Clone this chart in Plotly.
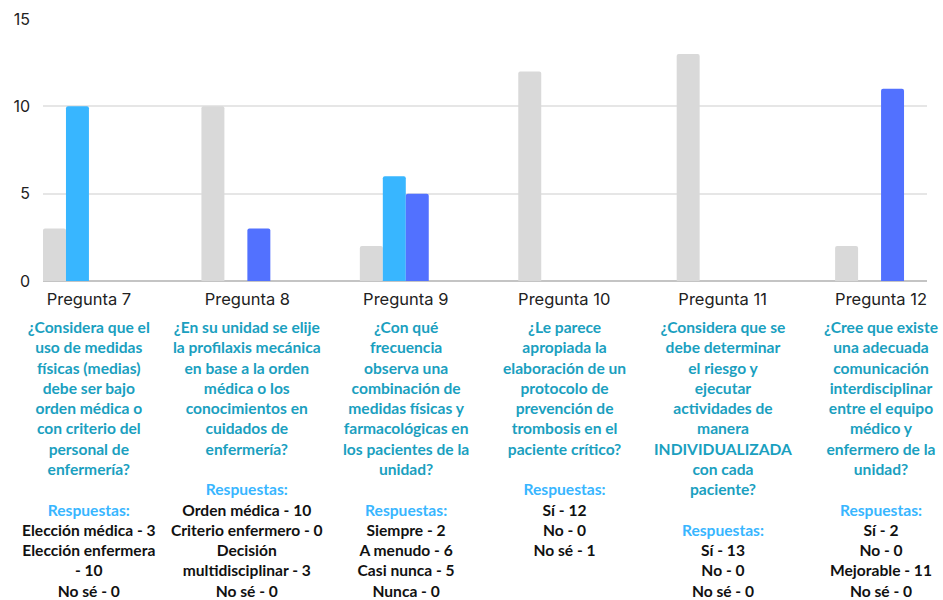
import plotly.graph_objects as go

categories = ["Pregunta 7", "Pregunta 8", "Pregunta 9", "Pregunta 10", "Pregunta 11", "Pregunta 12"]
serie_1 = [3, 10, 2, 12, 13, 2]
serie_2 = [10, 0, 6, 0, 0, 0]
serie_3 = [0, 3, 5, 0, 0, 11]
serie_4 = [0, 0, 0, 0, 0, 0]
y_ticks = [0, 5, 10, 15]

questions = [
    ["¿Considera que el", "uso de medidas", "físicas (medias)", "debe ser bajo", "orden médica o",
     "con criterio del", "personal de", "enfermería?"],
    ["¿En su unidad se elije", "la profilaxis mecánica", "en base a la orden", "médica o los",
     "conocimientos en", "cuidados de", "enfermería?"],
    ["¿Con qué", "frecuencia", "observa una", "combinación de", "medidas físicas y",
     "farmacológicas en", "los pacientes de la", "unidad?"],
    ["¿Le parece", "apropiada la", "elaboración de un", "protocolo de", "prevención de",
     "trombosis en el", "paciente crítico?"],
    ["¿Considera que se", "debe determinar", "el riesgo y", "ejecutar", "actividades de", "manera",
     "INDIVIDUALIZADA", "con cada", "paciente?"],
    ["¿Cree que existe", "una adecuada", "comunicación", "interdisciplinar", "entre el equipo",
     "médico y", "enfermero de la", "unidad?"],
]
answers = [
    ["Elección médica - 3", "Elección enfermera", "- 10", "No sé - 0"],
    ["Orden médica - 10", "Criterio enfermero - 0", "Decisión", "multidisciplinar - 3", "No sé - 0"],
    ["Siempre - 2", "A menudo - 6", "Casi nunca - 5", "Nunca - 0"],
    ["Sí - 12", "No - 0", "No sé - 1"],
    ["Sí - 13", "No - 0", "No sé - 0"],
    ["Sí - 2", "No - 0", "Mejorable - 11", "No sé - 0"],
]

colors = ["#d9d9d9", "#38b6ff", "#5271ff", "#8c52ff"]
series = [serie_1, serie_2, serie_3, serie_4]

fig = go.Figure()
for s, c in zip(series, colors):
    fig.add_trace(go.Bar(x=categories, y=s, marker=dict(color=c, line=dict(width=0)),
                         showlegend=False, hoverinfo="skip"))

Q_COLOR = "#1aa0bf"
R_COLOR = "#38b6ff"
for i, cat in enumerate(categories):
    parts = [f"<span style='color:{Q_COLOR}'><b>{l}</b></span>" for l in questions[i]]
    parts.append(" ")
    parts.append(f"<span style='color:{R_COLOR}'><b>Respuestas:</b></span>")
    parts += [f"<span style='color:#111111'><b>{a}</b></span>" for a in answers[i]]
    fig.add_annotation(x=cat, xref="x", y=-0.132, yref="paper", yanchor="top", xanchor="center",
                       text="<br>".join(parts), showarrow=False, align="center",
                       font=dict(family="Lato", size=15.6, color=Q_COLOR))

fig.update_layout(
    width=943, height=600,
    margin=dict(l=43, r=16, t=19, b=319, autoexpand=False),
    paper_bgcolor="white", plot_bgcolor="white",
    barmode="group", bargap=0.42, bargroupgap=0.0,
    barcornerradius=2,
    font=dict(family="Inter", color="#222222"),
    xaxis=dict(range=[-0.29, 5.29], showgrid=False, showline=False, zeroline=False, automargin=False,
               tickfont=dict(family="Inter", size=16.5, color="#222222"), ticks="",
               ticklabelstandoff=6),
    yaxis=dict(range=[0, 15], tickvals=y_ticks, showgrid=True, gridcolor="#e6e6e6", gridwidth=1.5,
               zeroline=True, zerolinecolor="#c4c4c4", zerolinewidth=1.5, showline=False, automargin=False,
               tickfont=dict(family="Inter", size=16, color="#222222"), ticks="",
               ticklabelstandoff=12),
)

fig.write_html("out.html", config={"displayModeBar": False},
               post_script="document.body.style.margin='0';document.body.style.overflow='hidden';")
